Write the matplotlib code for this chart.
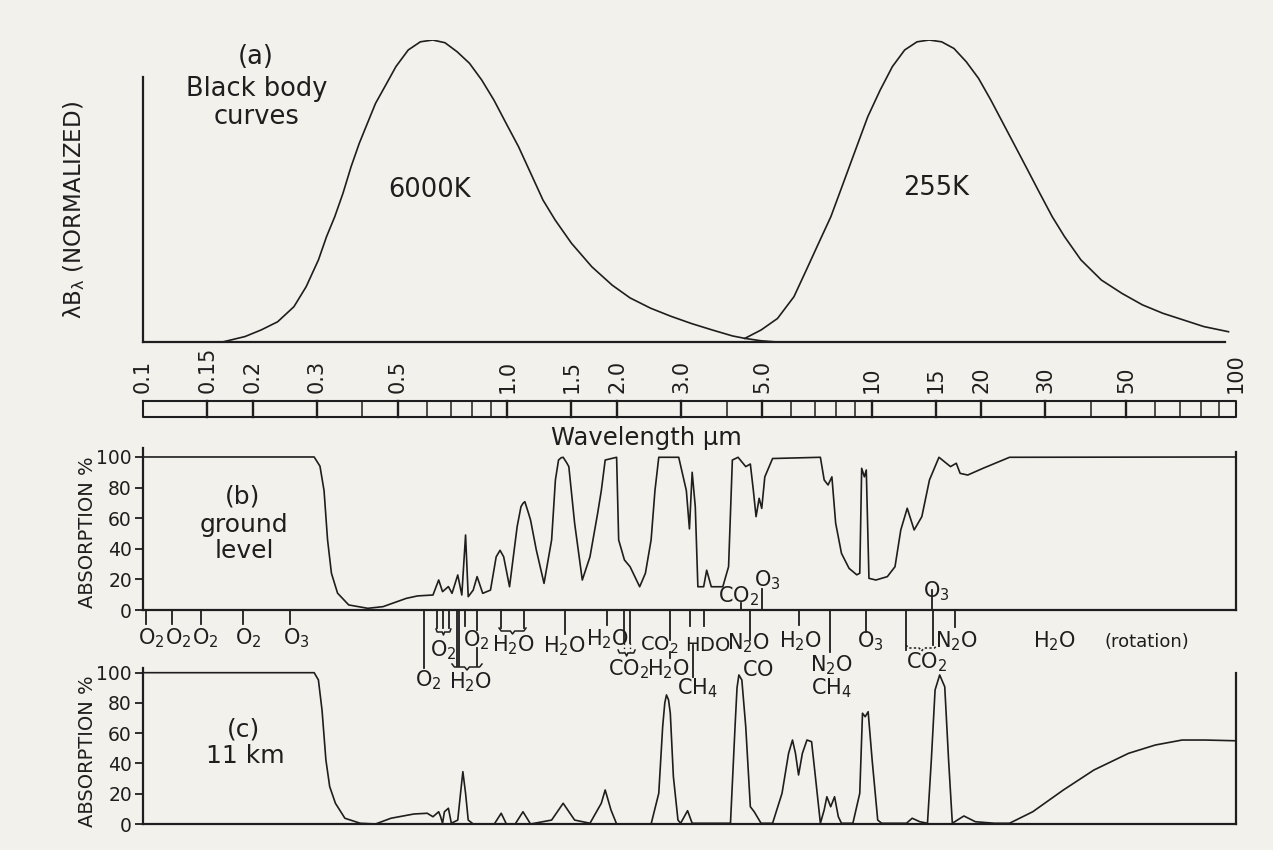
import matplotlib
matplotlib.use('Agg')
import matplotlib.pyplot as plt
from matplotlib.ticker import NullLocator

plt.rcParams['font.family'] = ['DejaVu Sans']
plt.rcParams['mathtext.fontset'] = 'custom'
plt.rcParams['mathtext.rm'] = 'DejaVu Sans'
plt.rcParams['mathtext.it'] = 'DejaVu Sans:italic'
plt.rcParams['mathtext.bf'] = 'DejaVu Sans:bold'

# ---------------- data (wavelength in micrometres) ----------------
bb6000_wl = [0.1652, 0.1905, 0.2111, 0.2342, 0.2596, 0.2804, 0.3031, 0.3190, 0.3360, 0.3538,
             0.3724, 0.3923, 0.4129, 0.4347, 0.4638, 0.4946, 0.5346, 0.5772, 0.6240, 0.6743,
             0.7282, 0.7870, 0.8500, 0.9188, 0.9924, 1.073, 1.159, 1.2527, 1.3527, 1.4997,
             1.706, 1.941, 2.172, 2.472, 2.814, 3.204, 3.647, 4.152, 4.487, 4.975, 5.5]
bb6000_val = [0.0, 0.018, 0.040, 0.067, 0.117, 0.183, 0.272, 0.349, 0.415, 0.492,
              0.580, 0.658, 0.724, 0.790, 0.851, 0.912, 0.967, 0.994, 1.0, 0.991,
              0.961, 0.923, 0.868, 0.801, 0.724, 0.647, 0.559, 0.470, 0.404, 0.327,
              0.249, 0.188, 0.146, 0.112, 0.085, 0.061, 0.040, 0.020, 0.012, 0.004, 0.0]

bb255_wl = [4.487, 4.975, 5.516, 6.119, 6.615, 7.150, 7.727, 8.351, 9.028, 9.757,
            10.55, 11.40, 12.32, 13.32, 14.39, 15.56, 16.82, 18.18, 19.65, 21.24,
            22.95, 24.80, 26.79, 28.95, 31.30, 33.83, 37.52, 42.72, 48.63, 55.35,
            63.01, 71.72, 81.64, 95.37]
bb255_val = [0.012, 0.040, 0.078, 0.150, 0.238, 0.327, 0.415, 0.525, 0.636, 0.746,
             0.834, 0.912, 0.967, 0.994, 1.0, 0.994, 0.972, 0.928, 0.873, 0.801,
             0.724, 0.647, 0.570, 0.492, 0.415, 0.349, 0.272, 0.205, 0.161, 0.123,
             0.095, 0.073, 0.051, 0.034]

ground_wl = [0.1, 0.295, 0.306, 0.314, 0.321, 0.329, 0.342, 0.367, 0.414, 0.456, 0.528, 0.567,
             0.625, 0.648, 0.664, 0.689, 0.705, 0.731, 0.750, 0.768, 0.781, 0.806, 0.826,
             0.856, 0.899, 0.932, 0.955, 0.977, 1.014, 1.064, 1.090, 1.104, 1.117, 1.144,
             1.158, 1.201, 1.261, 1.323, 1.355, 1.382, 1.405, 1.423, 1.457, 1.475, 1.530,
             1.606, 1.686, 1.769, 1.811, 1.856, 1.995, 2.021, 2.096, 2.172, 2.308, 2.393,
             2.481, 2.542, 2.604, 2.954, 3.10, 3.161, 3.216, 3.28, 3.334, 3.458, 3.525,
             3.629, 3.903, 4.048, 4.146, 4.298, 4.512, 4.645, 4.735, 4.816, 4.911, 4.992,
             5.09, 5.346, 7.232, 7.407, 7.591, 7.777, 7.965, 8.263, 8.67, 9.10, 9.275,
             9.388, 9.55, 9.665, 9.83, 10.27, 11.04, 11.59, 12.02, 12.52, 13.08, 13.73,
             14.41, 15.30, 16.46, 17.07, 17.49, 18.35, 20.21, 23.9, 100.0]
ground_abs = [100, 100, 94, 78, 46, 24, 11, 3.3, 1.1, 2.2, 7.6, 9.2,
              9.8, 19.6, 12, 15.3, 10.9, 22.9, 9.8, 49, 8.7, 13, 21.8,
              10.9, 13, 34.8, 39, 34.8, 15.2, 54.5, 67.5, 69.7, 70.8, 63,
              58.8, 39.2, 17.4, 45.8, 85, 98, 99.5, 99.8, 96, 93.7, 56.7,
              19.6, 34.8, 63, 78, 98, 99.8, 45.8, 32.7, 28.3, 15.2, 24,
              45.8, 78, 99.8, 99.8, 78, 53, 90, 67.5, 15.2, 15.2, 26,
              15.2, 15.2, 28.3, 98, 99.8, 93.7, 95.4, 78, 61, 73, 66.4,
              87, 99, 99.8, 85, 81.7, 87, 56.7, 37, 27.2, 23, 24,
              92.6, 87, 91.5, 20.7, 19.6, 21.8, 28.3, 52.3, 66.5, 52.3, 61,
              85, 99.8, 93.7, 95.9, 89.3, 88.2, 92.6, 99.8, 100]

km11_wl = [0.1, 0.295, 0.303, 0.310, 0.3177, 0.3254, 0.3374, 0.3582, 0.3946, 0.4347, 0.4792,
           0.5537, 0.6027, 0.625, 0.648, 0.656, 0.664, 0.672, 0.689, 0.702, 0.731, 0.744,
           0.755, 0.768, 0.781, 0.806, 0.921, 0.962, 0.994, 1.051, 1.104, 1.158, 1.323,
           1.423, 1.530, 1.686, 1.811, 1.856, 1.925, 1.995, 2.481, 2.604, 2.669, 2.705,
           2.734, 2.77, 2.801, 2.856, 2.94, 2.99, 3.124, 3.216, 4.097, 4.217, 4.27, 4.32,
           4.402, 4.512, 4.645, 4.76, 4.97, 5.346, 5.675, 5.915, 6.063, 6.178, 6.30, 6.454,
           6.644, 6.84, 7.007, 7.232, 7.407, 7.534, 7.718, 7.91, 8.10, 8.263, 8.881, 9.275,
           9.437, 9.599, 9.78, 10.03, 10.39, 10.65, 12.46, 12.92, 13.56, 14.23, 14.58,
           14.93, 15.37, 15.87, 16.26, 16.65, 17.91, 19.26, 21.73, 23.9, 27.68, 33.6,
           40.75, 50.7, 60.04, 71.15, 82.2, 100.0]
km11_abs = [100, 100, 95.2, 75.3, 42.3, 24.7, 13.7, 3.8, 0.5, 0, 3.8,
            6.6, 7.1, 4.8, 8.1, 4.8, 0.5, 8.1, 10.4, 0.5, 2.6, 20.3,
            34.6, 20.3, 2.6, 0, 0, 7.1, 0, 0, 8.1, 0, 2.6,
            13.7, 2.6, 0.5, 13.7, 22.5, 9.3, 0, 0, 20.3, 64.3, 80,
            85.3, 82, 73.2, 31.3, 2.6, 0.5, 8.8, 0.5, 0.5, 64.3, 90, 98.5,
            95.2, 64.3, 11.4, 8.1, 0.5, 0.5, 20.3, 46.7, 55.5, 46.7, 32.4, 46.7,
            55.5, 54.4, 31.3, 0.5, 9.3, 18, 11.4, 18, 4.8, 0.5, 0.5, 20.3,
            73.2, 70.9, 74.2, 42.3, 2.6, 0.5, 0.5, 3.8, 1.5, 0.5, 42.3,
            88.6, 98.5, 90.7, 42.3, 0.5, 5.3, 1.5, 0.5, 0.5, 8.1, 22.5,
            35.7, 46.7, 52.2, 55.5, 55.5, 55]

scale_divisions = [0.15, 0.2, 0.3, 0.4, 0.5, 0.6, 0.7, 0.8, 0.9, 1.0, 1.5, 2, 3, 4, 5, 6, 7, 8, 9,
                   10, 15, 20, 30, 40, 50, 60, 70, 80, 90]
scale_label_wl = [0.1, 0.15, 0.2, 0.3, 0.5, 1.0, 1.5, 2.0, 3.0, 5.0, 10, 15, 20, 30, 50, 100]
scale_labels = ['0.1', '0.15', '0.2', '0.3', '0.5', '1.0', '1.5', '2.0', '3.0', '5.0',
                '10', '15', '20', '30', '50', '100']

# absorber tick marks below panel (b): wavelength
band_ticks = [0.1019, 0.1201, 0.1443, 0.1882, 0.2532, 0.5906, 0.6412, 0.666, 0.6918,
              0.7276, 0.7369, 0.7654, 0.8256, 0.9592, 1.1112, 1.4405, 1.878, 2.0911,
              2.172, 2.7964, 3.1729, 3.4674, 4.6356, 6.3212, 7.6884, 9.6516, 12.43,
              14.743, 16.935]
band_tick_len = [14, 14, 14, 14, 14, 58, 18, 18, 18, 56, 56, 16, 20, 18, 18, 24, 15, 33,
                 33, 30, 16, 16, 30, 15, 42, 22, 40, 35, 17]
# absorber tick marks above panel (b) axis
up_ticks = [4.3799, 5.0014, 14.651]
up_tick_len = [7, 21, 20]

# absorber labels
band_labels = ['O_2', 'O_2', 'O_2', 'O_2', 'O_3', 'O_2', 'O_2', 'H_2O', 'H_2O', 'H_2O',
               'CO_2', 'HDO', 'N_2O', 'CO', 'H_2O', 'N_2O', 'CH_4', 'O_3', 'CO_2', 'N_2O',
               'H_2O', 'CO_2', 'H_2O', 'CH_4', 'O_2', 'H_2O']
band_label_wl = [0.1052, 0.1248, 0.148, 0.1943, 0.263, 0.666, 0.8205, 1.0368, 1.4315, 1.878,
                 2.609, 3.555, 4.5773, 4.876, 6.362, 7.7382, 7.7382, 9.8992, 14.105, 17.045,
                 31.67, 2.1447, 2.7613, 3.3164, 0.6058, 0.79]
band_label_y = [644, 644, 644, 644, 644, 656, 646, 651, 652, 645,
                651, 651, 649, 676, 647, 671, 694, 647, 668, 647,
                647, 675, 675, 694, 686, 688]
up_labels = ['CO_2', 'O_3', 'O_3']
up_label_wl = [4.2979, 5.162, 15.026]
up_label_y = [602, 586, 597]

# ---------------- layout ----------------
BG = '#f3f1ec'
INK = '#1e1e1e'
W, H = 1273, 850
X0, X1 = 143, 1236

fig = plt.figure(figsize=(W / 100, H / 100), dpi=100, facecolor=BG)


def rect(top, bottom):
    return [X0 / W, 1 - bottom / H, (X1 - X0) / W, (bottom - top) / H]


def style_axes(ax):
    ax.set_xscale('log')
    ax.set_xlim(0.1, 100)
    ax.set_facecolor('none')
    ax.xaxis.set_major_locator(NullLocator())
    ax.xaxis.set_minor_locator(NullLocator())
    for s in ax.spines.values():
        s.set_linewidth(1.6)
        s.set_color(INK)
    ax.spines['top'].set_visible(False)


# panel (a)
ax_a = fig.add_axes(rect(40, 342))
style_axes(ax_a)
ax_a.set_ylim(0, 1)
ax_a.spines['right'].set_visible(False)
ax_a.spines['left'].set_bounds(0, 0.877)
ax_a.spines['bottom'].set_bounds(0.1, 93.3)
ax_a.yaxis.set_major_locator(NullLocator())
ax_a.plot(bb6000_wl, bb6000_val, color=INK, lw=1.2, solid_joinstyle='round')
ax_a.plot(bb255_wl, bb255_val, color=INK, lw=1.2, solid_joinstyle='round')

# panel (b)
ax_b = fig.add_axes(rect(447.8, 610))
style_axes(ax_b)
ax_b.set_ylim(0, 106)
ax_b.spines['right'].set_bounds(0, 103.3)
ax_b.plot(ground_wl, ground_abs, color=INK, lw=1.2, solid_joinstyle='round')

# panel (c)
ax_c = fig.add_axes(rect(668, 824))
style_axes(ax_c)
ax_c.set_ylim(0, 103.1)
ax_c.spines['right'].set_bounds(0, 100)
ax_c.plot(km11_wl, km11_abs, color=INK, lw=1.2, solid_joinstyle='round')

for ax in (ax_b, ax_c):
    ax.set_yticks([0, 20, 40, 60, 80, 100])
    ax.tick_params(axis='y', direction='out', length=6, width=1.3, labelsize=13.5,
                   pad=2, colors=INK, right=False)

# overlay in (wavelength, pixel-y) coordinates
ax_o = fig.add_axes([X0 / W, 0, (X1 - X0) / W, 1])
ax_o.set_xscale('log')
ax_o.set_xlim(0.1, 100)
ax_o.set_ylim(H, 0)
ax_o.axis('off')

# wavelength scale bar
ax_o.plot([0.1, 100, 100, 0.1, 0.1], [401, 401, 417, 417, 401], color=INK, lw=1.5,
          clip_on=False)
for wl in scale_divisions:
    strong = any(abs(wl - v) < 1e-9 for v in scale_label_wl)
    ax_o.plot([wl, wl], [401, 417], color=INK, lw=1.7 if strong else 1.1, clip_on=False)
for wl, lab in zip(scale_label_wl, scale_labels):
    ax_o.text(wl, 393, lab, rotation=90, ha='center', va='bottom', fontsize=15,
              color=INK)

# absorber ticks and labels
for wl, ln in zip(band_ticks, band_tick_len):
    ax_o.plot([wl, wl], [610, 610 + ln], color=INK, lw=1.3, clip_on=False)
for wl, ln in zip(up_ticks, up_tick_len):
    ax_o.plot([wl, wl], [610 - ln, 610], color=INK, lw=1.3, clip_on=False)
for wl, y0, y1 in [(0.8256, 648, 666), (3.2238, 645, 677), (2.7964, 652, 658)]:
    ax_o.plot([wl, wl], [y0, y1], color=INK, lw=1.3, clip_on=False)
for wl in (2.0911, 2.172):
    ax_o.plot([wl, wl], [643, 652], color=INK, lw=1.0, ls=(0, (1, 2)), clip_on=False)


def brace(l1, l2, y, dotted=False):
    def at(f):
        return l1 * (l2 / l1) ** f
    xs = [at(0), at(0.08), at(0.42), at(0.5), at(0.58), at(0.92), at(1)]
    ys = [y, y + 3, y + 3, y + 6, y + 3, y + 3, y]
    ax_o.plot(xs, ys, color=INK, lw=1.1, ls=(0, (1.5, 1.5)) if dotted else '-',
              clip_on=False)


brace(0.637, 0.700, 629)
brace(0.705, 0.852, 664)
brace(0.9489, 1.1254, 628)
brace(2.0137, 2.2417, 650)
brace(12.43, 15.121, 645, dotted=True)

for lab, wl, y in zip(band_labels, band_label_wl, band_label_y):
    fs = 14 if lab in ('HDO',) or (lab == 'CO_2' and y == 651) else 15
    ax_o.text(wl, y, r'$\mathregular{%s}$' % lab, ha='center', va='baseline',
              fontsize=fs, color=INK)
ax_o.text(57.02, 647, '(rotation)', ha='center', va='baseline', fontsize=13, color=INK)
for lab, wl, y in zip(up_labels, up_label_wl, up_label_y):
    ax_o.text(wl, y, r'$\mathregular{%s}$' % lab, ha='center', va='baseline',
              fontsize=15, color=INK)


# ---------------- texts ----------------
def ftext(x, y, s, **kw):
    kw.setdefault('color', INK)
    fig.text(x / W, 1 - y / H, s, **kw)


ftext(256, 64, '(a)', ha='center', va='baseline', fontsize=18.5)
ftext(257, 96, 'Black body', ha='center', va='baseline', fontsize=18.5)
ftext(257, 124, 'curves', ha='center', va='baseline', fontsize=18.5)
ftext(430, 197, '6000K', ha='center', va='baseline', fontsize=18.5)
ftext(936, 195, '255K', ha='center', va='baseline', fontsize=18.5)
ftext(74, 210, r'$\mathregular{\lambda B_{\lambda}}$ (NORMALIZED)', rotation=90,
      ha='center', va='center', fontsize=16.5)
ftext(646, 445, 'Wavelength μm', ha='center', va='baseline', fontsize=17.5)

ftext(88, 532, 'ABSORPTION %', rotation=90, ha='center', va='center', fontsize=14)
ftext(243, 504, '(b)', ha='center', va='baseline', fontsize=18)
ftext(244, 532, 'ground', ha='center', va='baseline', fontsize=18)
ftext(244, 558, 'level', ha='center', va='baseline', fontsize=18)

ftext(88, 751, 'ABSORPTION %', rotation=90, ha='center', va='center', fontsize=14)
ftext(243, 736, '(c)', ha='center', va='baseline', fontsize=18)
ftext(245, 763, '11 km', ha='center', va='baseline', fontsize=18)

fig.savefig('out.png', dpi=100, facecolor=BG)
